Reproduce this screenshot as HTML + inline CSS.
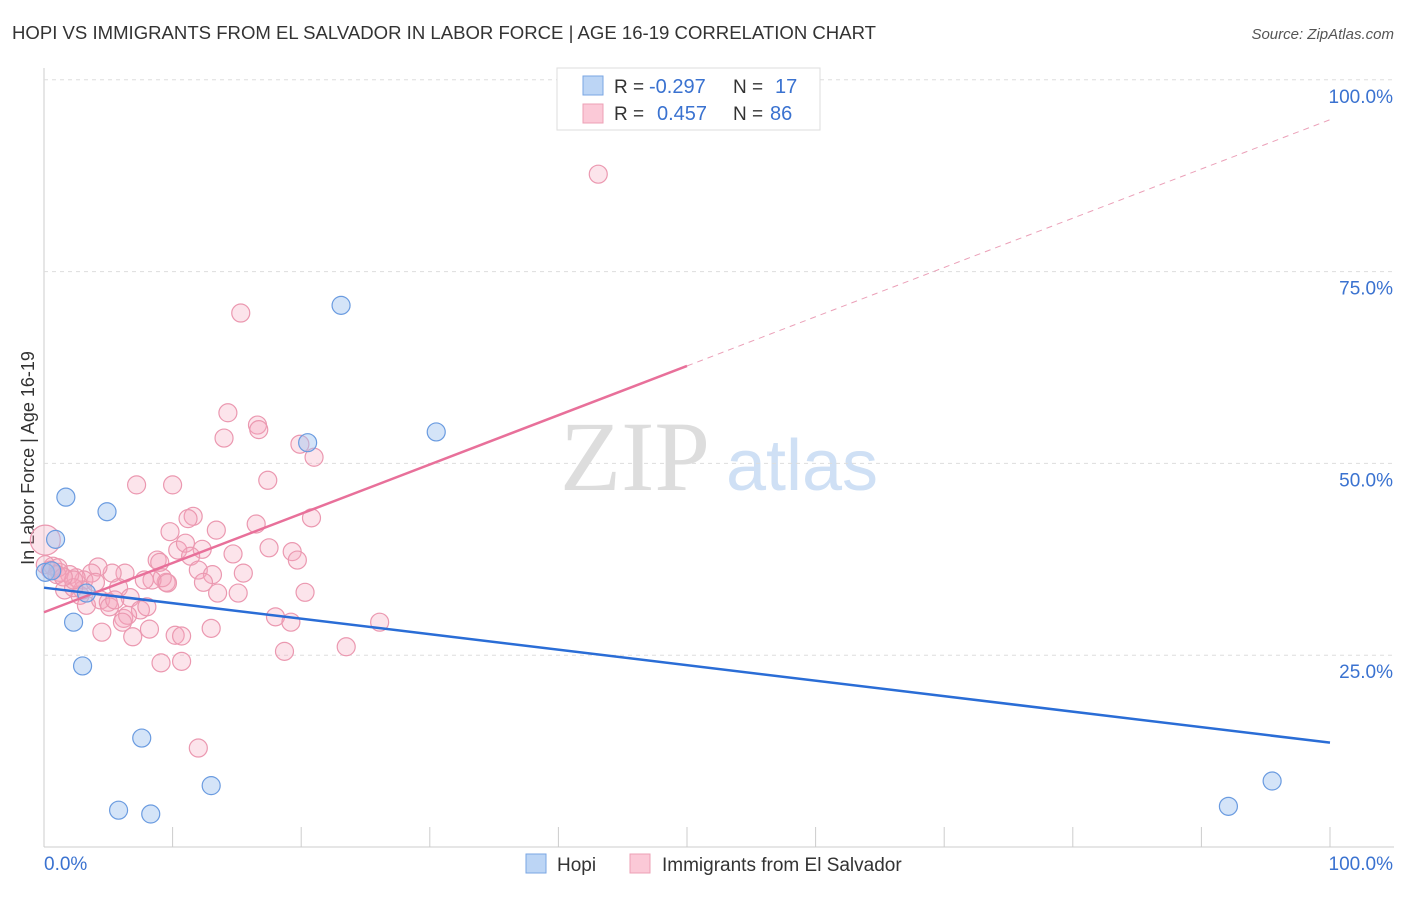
<!DOCTYPE html>
<html><head><meta charset="utf-8"><style>
body{margin:0;background:#fff;font-family:"Liberation Sans",sans-serif}
</style></head><body>
<svg id="c" width="1406" height="892" xmlns="http://www.w3.org/2000/svg" font-family="Liberation Sans, sans-serif">
<text x="12" y="39" font-size="18" fill="#333" textLength="864" lengthAdjust="spacingAndGlyphs">HOPI VS IMMIGRANTS FROM EL SALVADOR IN LABOR FORCE | AGE 16-19 CORRELATION CHART</text>
<text x="1394" y="39" font-size="15" fill="#555" text-anchor="end" font-style="italic">Source: ZipAtlas.com</text>
<text transform="translate(34,458) rotate(-90)" font-size="18" fill="#333" text-anchor="middle">In Labor Force | Age 16-19</text>
<g>
<text x="635" y="490" font-size="100" fill="#ddd" text-anchor="middle" style="font-family:'Liberation Serif',serif">ZIP</text>
<text x="802" y="490" font-size="72" fill="#cfe0f5" text-anchor="middle">atlas</text></g>
<g id="grid"></g><g id="marks"></g>
<g>
<rect x="557" y="68" width="263" height="62" fill="#fff" stroke="#ddd"/>
<rect x="583" y="76" width="20" height="19" fill="#bcd5f5" stroke="#7aa6e3"/>
<rect x="583" y="104" width="20" height="19" fill="#fbc9d7" stroke="#eda0b6"/>
<text x="614" y="93" font-size="19" fill="#333">R =</text>
<text x="649" y="93" font-size="20" fill="#3a72d0">-0.297</text>
<text x="733" y="93" font-size="19" fill="#333">N =</text>
<text x="775" y="93" font-size="20" fill="#3a72d0">17</text>
<text x="614" y="120" font-size="19" fill="#333">R =</text>
<text x="657" y="120" font-size="20" fill="#3a72d0">0.457</text>
<text x="733" y="120" font-size="19" fill="#333">N =</text>
<text x="770" y="120" font-size="20" fill="#3a72d0">86</text>
</g>
<g>
<rect x="526" y="854" width="20" height="19" fill="#bcd5f5" stroke="#7aa6e3"/>
<text x="557" y="871" font-size="19" fill="#333">Hopi</text>
<rect x="630" y="854" width="20" height="19" fill="#fbc9d7" stroke="#eda0b6"/>
<text x="662" y="871" font-size="19" fill="#333">Immigrants from El Salvador</text>
</g>
</svg>
<script>
const yTicks=[25,50,75,100];
const yTickLabels=["25.0%","50.0%","75.0%","100.0%"];
const xTicks=[0,10,20,30,40,50,60,70,80,90,100];
const hopiX=[0.1,0.9,1.7,4.9,3.3,2.3,3.0,7.6,5.8,8.3,13.0,23.1,20.5,30.5,92.1,95.5,0.6];
const hopiY=[35.8,40.1,45.6,43.7,33.1,29.3,23.6,14.2,4.8,4.3,8.0,70.6,52.7,54.1,5.3,8.6,36.0];
const elsX=[43.1,15.3,14.3,14.0,16.6,16.7,19.9,21.0,17.4,7.2,10.0,11.6,11.2,13.4,16.5,20.8,9.8,10.4,11.0,12.3,14.7,17.5,19.3,19.7,8.8,9.0,11.4,12.0,15.5,13.1,12.4,9.5,9.2,8.4,7.8,6.3,5.3,4.2,3.7,3.1,2.5,2.0,1.2,0.7,0.5,1.1,0.1,0.1,1.6,2.8,3.3,4.4,5.0,5.8,6.7,7.5,8.0,6.2,6.5,5.1,3.0,2.3,4.5,6.1,8.2,6.9,10.2,10.7,13.0,13.5,15.1,20.3,18.0,19.2,26.1,23.5,18.7,9.1,10.7,12.0,2.3,4.0,5.5,1.0,1.5,9.6];
const elsY=[87.7,69.6,56.6,53.3,55.0,54.4,52.5,50.8,47.8,47.2,47.2,43.1,42.8,41.3,42.1,42.9,41.1,38.7,39.6,38.8,38.2,39.0,38.5,37.4,37.4,37.1,37.9,36.1,35.7,35.5,34.5,34.5,35.1,34.8,34.8,35.7,35.7,36.5,35.7,34.8,35.1,35.5,35.8,36.6,36.1,36.4,40.0,36.8,33.5,32.8,31.5,32.2,31.9,33.8,32.5,30.9,31.3,29.8,30.2,31.3,33.5,33.8,28.0,29.3,28.4,27.4,27.6,27.5,28.5,33.1,33.1,33.2,30.0,29.3,29.3,26.1,25.5,24.0,24.2,12.9,34.8,34.5,32.2,35.5,35.2,34.4];
const hopiTrend=[33.8,13.6];
const elsTrend=[30.6,94.8];
const elsSolidEnd=50;
const X=v=>44+v*12.86, Y=v=>847-v*7.672;
const NS="http://www.w3.org/2000/svg";
function mk(p,t,a){const e=document.createElementNS(NS,t);for(const k in a)e.setAttribute(k,a[k]);p.appendChild(e);return e;}
const g=document.getElementById('grid'), m=document.getElementById('marks');
let ax=mk(g,'line',{x1:44,y1:68,x2:44,y2:847,stroke:'#ccc'});


let bx=mk(g,'line',{x1:44,y1:847,x2:1394,y2:847,stroke:'#ccc'});


yTicks.forEach((t,i)=>{
 const l=mk(g,'line',{x1:44,y1:Y(t),x2:1394,y2:Y(t),stroke:'#ddd','stroke-dasharray':'4,4'});
 
 
 const tx=mk(g,'text',{x:1393,y:Y(t)+23,'font-size':19,fill:'#3a72d0','text-anchor':'end'});
 tx.textContent=yTickLabels[i];
 
 
});
xTicks.forEach(t=>{
 const l=mk(g,'line',{x1:X(t),y1:827,x2:X(t),y2:847,stroke:'#ccc'});
 
 
});
[[0,"0.0%",'start',44],[100,"100.0%",'end',1393]].forEach(a=>{
 const tx=mk(g,'text',{x:a[3],y:870,'font-size':19,fill:'#3a72d0','text-anchor':a[2]});
 tx.textContent=a[1];
 
 
});
elsX.forEach((x,i)=>{
 const c=mk(m,'circle',{cx:X(x),cy:Y(elsY[i]),r:(i==46?15:9),fill:'rgba(246,165,190,0.3)',stroke:'#eb98b0','stroke-width':1.2});
 
 
});
hopiX.forEach((x,i)=>{
 const c=mk(m,'circle',{cx:X(x),cy:Y(hopiY[i]),r:9,fill:'rgba(160,196,240,0.45)',stroke:'#6a9be0','stroke-width':1.2});
 
 
});
const ey=x=>elsTrend[0]+(elsTrend[1]-elsTrend[0])*x/100;
let l1=mk(m,'line',{x1:X(0),y1:Y(ey(0)),x2:X(elsSolidEnd),y2:Y(ey(elsSolidEnd)),stroke:'#e8709a','stroke-width':2.5});


let l2=mk(m,'line',{x1:X(elsSolidEnd),y1:Y(ey(elsSolidEnd)),x2:X(100),y2:Y(ey(100)),stroke:'#eba0b8','stroke-width':1,'stroke-dasharray':'6,5'});


let l3=mk(m,'line',{x1:X(0),y1:Y(hopiTrend[0]),x2:X(100),y2:Y(hopiTrend[1]),stroke:'#2a6dd6','stroke-width':2.5});


</script>
</body></html>
